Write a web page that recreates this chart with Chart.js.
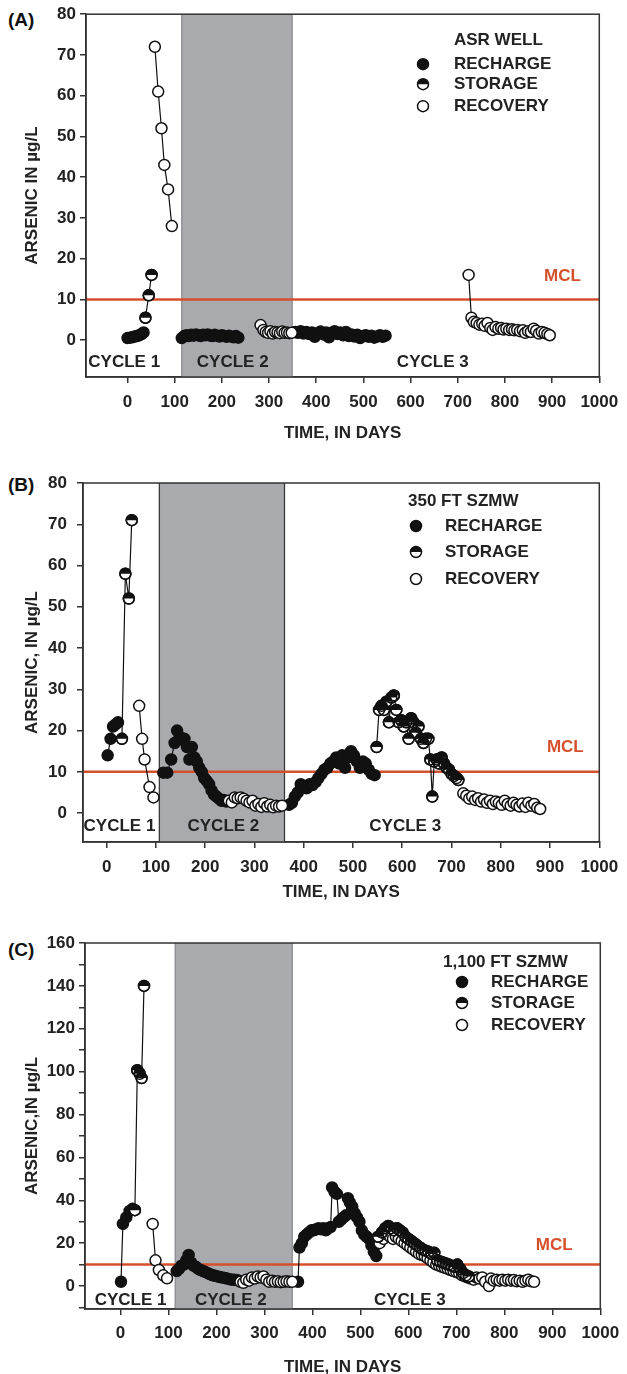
<!DOCTYPE html>
<html><head><meta charset="utf-8">
<script src="https://cdn.jsdelivr.net/npm/chart.js@4.4.0/dist/chart.umd.min.js"></script>
<style>
html,body{margin:0;padding:0;background:#fff;overflow:hidden;width:627px;height:1374px;position:relative;}
canvas{position:absolute;left:0;}
.plabel{position:absolute;left:8px;font:bold 19px "Liberation Sans",Arial,sans-serif;color:#111;line-height:22px;}
</style></head><body>
<div class="plabel" style="top:9px">(A)</div>
<div class="plabel" style="top:474px">(B)</div>
<div class="plabel" style="top:939px">(C)</div>
<canvas id="cA" width="627" height="448" style="top:0px"></canvas>
<canvas id="cB" width="627" height="457" style="top:448px"></canvas>
<canvas id="cC" width="627" height="480" style="top:905px"></canvas>
<script>
// ---------------- DATA ----------------
const MCL = 10;
const X_TICKS = [0,100,200,300,400,500,600,700,800,900,1000];
const AB_Y_TICKS = [0,10,20,30,40,50,60,70,80];
const C_Y_TICKS = [-10,0,10,20,30,40,50,60,70,80,90,100,110,120,130,140,150,160];
const C_Y_LABELS = [0,20,40,60,80,100,120,140,160];

// Panel A: ASR WELL
const aRechargeDay = [0,5,10,15,20,25,30,34, null,
  115,120,125,130,135,140,145,150,155,160,165,170,175,180,185,190,195,200,205,210,215,220,225,230,235, null,
  355,361,367,373,379,385,391,397,403,409,415,421,427,433,439,445,451,457,463,469,475,481,487,493,499,505,511,517,523,529,535,541,547];
const aRechargeAs = [0.5,0.6,0.7,0.9,1.0,1.2,1.5,1.9, null,
  0.5,1.0,1.2,1.0,1.3,1.1,1.4,1.2,1.0,1.3,1.2,1.4,1.1,1.0,1.3,1.1,0.9,1.2,1.0,0.8,1.1,0.9,0.7,1.0,0.6, null,
  2.0,1.8,2.2,1.6,2.0,1.5,1.9,0.8,1.7,2.1,1.4,1.9,0.7,1.8,2.2,1.5,1.9,1.2,2.0,1.0,1.4,0.9,1.3,0.5,1.0,1.2,0.8,1.1,0.6,0.9,1.2,0.8,1.1];
const aStorageDay = [38,45,51];
const aStorageAs = [5.5,11,16];
const aRecoveryDay = [58,65,72,78,86,94, null,
  282,288,293,298,303,308,313,318,323,328,333,338,343,348, null,
  723,729,734,740,746,752,757,763,769,774,780,786,792,797,803,809,815,820,826,832,838,843,849,855,861,866,872,878,884,890,895];
const aRecoveryAs = [72,61,52,43,37,28, null,
  3.7,2.5,2.0,1.8,2.2,1.6,2.0,1.9,1.7,2.1,1.8,1.9,1.7,1.8, null,
  16,5.5,4.5,4.2,3.8,4.0,3.5,4.2,3.0,2.5,3.2,2.8,3.0,2.6,2.8,2.5,2.7,2.4,2.5,2.2,2.4,1.8,2.2,2.0,2.8,2.3,1.6,2.0,1.8,1.5,1.2];

// Panel B: 350 FT SZMW
const bRechargeDay = [2,8,13,18,23, null,
  115,123,131,138,143,148,153,158,163,168,173,178,183,188,193,198,203,208,213,218,223,228,233,238,243, null,
  370,376,382,388,394,400,406,412,418,424,430,436,442,448,454,460,466,472,478,484,490,496,502,508,514,520,526,532,538,544];
const bRechargeAs = [14,18,21,21.5,22, null,
  9.8,9.8,13,17,20,18.5,17.8,18,16,13,16,13.5,12.5,11,10,8.5,7.8,7,5.5,4.5,4,3.5,3,3.2,2.8, null,
  2.0,2.5,4,5,7,6.5,6,7,6.8,7.5,8.5,9.5,10.5,11,12,12.5,13.5,12,14,11,13.5,15,14,12.5,11,12.5,12,10.5,9.5,9.2];
const bStorageDay = [31,38,45,51, null,
  548,553,558,563,568,573,578,583,588,593,598,603,608,613,618,623,628,633,638,643,648,653,657,661,665,670,675,680,685,690,695,700,705,710,714];
const bStorageAs = [18,58,52,71, null,
  16,25,26,25,27,22,28,28.5,25,22,22.5,21,22,18,23,22,19.5,21,18,17,18,18,13,4,12.5,13,12,13.5,12,11,10.5,9.5,9,8.5,8];
const bRecoveryDay = [66,72,77,87,95, null,
  248,254,260,266,272,278,284,290,296,302,308,314,320,326,332,338,344,350,356, null,
  724,730,736,742,748,754,760,766,772,778,784,790,796,802,808,814,820,826,832,838,844,850,856,862,868,874,880];
const bRecoveryAs = [26,18,13,6.3,3.8, null,
  3.0,2.6,3.8,3.6,3.8,3.5,3.0,2.6,3.0,1.8,2.2,1.5,2.4,1.6,2.0,1.4,1.8,1.6,1.8, null,
  4.8,4.2,3.5,4.0,3.2,3.6,2.8,3.3,2.5,3.0,2.2,2.8,2.5,2.0,3.0,2.2,1.8,2.5,2.0,1.6,2.3,1.5,2.5,1.8,2.2,1.3,1.0];

// Panel C: 1,100 FT SZMW
const cRechargeDay = [1,5,12,19,25, null,
  117,122,127,132,137,142,147,152,157,162,167,172,177,182,187,192,197,202,207,212,217,222,227,232,237,242,247, null,
  370,373,378,383,388,393,398,403,408,413,418,423,428,433,438,441,446,451,455,460,465,470,474,478,483,488,493,498,503,508,513,518,523,528,533];
const cRechargeAs = [2,29,32,35,36, null,
  7,8,9.5,10,12,14.5,11,9.5,9,8,7.5,7,6.5,6,5.5,5,4.8,4.5,4.2,4,3.8,3.5,3.2,3,3,2.8,2.5, null,
  2,18,20,23,24,25,26,26,26.5,27,26.5,27,26,27,27.5,46,44,43,30,31,32,33,41,39,37,34,32,30,26,24,23,22,19,16,14];
const cStorageDay = [30,35,40,44,49, null,
  537,545,552,558,564,570,576,582,588,594,600,606,612,618,624,630,636,642,648,654,660,666,672,678,684,690,696,702,708,714,720,726];
const cStorageAs = [35.4,100.7,99,97,140, null,
  23,25,27,28,27,26,27,26,25,23,22,21,20,19,18,17,16.5,16,15,15.5,12,11.5,11,10.5,10,9.5,9,10,8,6,5,4.5];
const cRecoveryDay = [67,73,80,89,97, null,
  250,256,262,268,274,280,286,292,298,304,310,316,322,328,334,340,346,352,358, null,
  540,548,556,562,568,574,580,586,592,598,604,610,616,622,628,634,640,646,652,658,664,670,676,682,688,694,700,706,712,718,724,730,736,742,748,754,760,768,772,778,784,790,796,802,808,814,820,826,832,838,844,850,856,862];
const cRecoveryAs = [29,12,7.5,5,3.6, null,
  2.0,1.5,3.0,2.5,4.0,3.5,4.5,4.0,4.5,3.0,2.0,2.5,2.0,2.2,1.8,2.0,2.2,2.0,2.0, null,
  20,22,24,23,22,23,22,21,20,19,18,17,16,15,14.5,14,13,12,11,10,9.5,9,8.5,8,7.5,7,6.5,6,5,4.5,4,3.5,3,4,3.5,4,2,0,3.5,2.5,3,2.5,3,2.5,3,2.5,2.8,2.2,2.5,2.0,2.5,3.0,2.2,2.0];

// Shaded storage period (days) per panel
const aShade = [115, 349];
const bShade = [107, 361];
const cShade = [114, 358];

// ---------------- STYLE / HELPERS ----------------
const FONT = '"Liberation Sans", Arial, Helvetica, sans-serif';
const RED = '#d4502c';
const INK = '#111';
const R = 5.5;

function pts(days, vals){
  return days.map((d,i) => d === null ? {x:null, y:null} : {x:d, y:vals[i]});
}
function series(days, vals, kind){
  const base = {data: pts(days, vals), borderColor:INK, borderWidth:1.2, spanGaps:false,
    pointRadius:R, pointHoverRadius:R, pointBorderWidth:1.5, pointBorderColor:INK, tension:0, fill:false, pointStyle:'circle'};
  if (kind === 'R') return Object.assign(base, {label:'RECHARGE', pointBackgroundColor:INK, order:3});
  if (kind === 'S') return Object.assign(base, {label:'STORAGE', pointBackgroundColor:'#fff', order:1, halfFill:true});
  return Object.assign(base, {label:'RECOVERY', pointBackgroundColor:'#fff', order:2});
}
function topHalf(ctx, x, y){
  ctx.beginPath(); ctx.arc(x, y, R, Math.PI, 2*Math.PI); ctx.closePath();
  ctx.fillStyle = INK; ctx.fill();
}

const deco = {
  id: 'deco',
  beforeDatasetsDraw(chart, args, o){
    const {ctx, chartArea:a, scales:{x, y}} = chart;
    ctx.save();
    const x1 = x.getPixelForValue(o.shade[0]), x2 = x.getPixelForValue(o.shade[1]);
    ctx.fillStyle = '#a9aaad';
    ctx.fillRect(x1, a.top, x2 - x1, a.bottom - a.top);
    ctx.strokeStyle = o.shadeEdge; ctx.lineWidth = 1.3;
    ctx.beginPath(); ctx.moveTo(x1, a.top); ctx.lineTo(x1, a.bottom); ctx.moveTo(x2, a.top); ctx.lineTo(x2, a.bottom); ctx.stroke();
    const ym = y.getPixelForValue(MCL);
    ctx.strokeStyle = RED; ctx.lineWidth = 2.5;
    ctx.beginPath(); ctx.moveTo(a.left, ym); ctx.lineTo(a.right, ym); ctx.stroke();
    ctx.fillStyle = RED; ctx.font = 'bold 17px ' + FONT; ctx.textAlign = 'center'; ctx.textBaseline = 'middle';
    ctx.fillText('MCL', x.getPixelForValue(o.mclAt[0]), y.getPixelForValue(o.mclAt[1]));
    ctx.fillStyle = '#222';
    o.cycles.forEach((c, i) => ctx.fillText('CYCLE ' + (i+1), x.getPixelForValue(c), y.getPixelForValue(o.cycleY)));
    ctx.restore();
  },
  afterDatasetsDraw(chart){
    const {ctx} = chart;
    ctx.save();
    chart.data.datasets.forEach((ds, i) => {
      if (!ds.halfFill) return;
      chart.getDatasetMeta(i).data.forEach(pt => {
        if (pt.skip || !isFinite(pt.x) || !isFinite(pt.y)) return;
        topHalf(ctx, pt.x, pt.y);
        ctx.beginPath(); ctx.arc(pt.x, pt.y, R, 0, 2*Math.PI); ctx.lineWidth = 1.5; ctx.strokeStyle = INK; ctx.stroke();
      });
    });
    ctx.restore();
  },
  afterDraw(chart, args, o){
    const {ctx, chartArea:a} = chart;
    ctx.save();
    ctx.strokeStyle = '#333'; ctx.lineWidth = 1.5;
    ctx.strokeRect(a.left, a.top, a.right - a.left, a.bottom - a.top);
    const L = o.legend;
    ctx.fillStyle = '#222'; ctx.font = 'bold 17px ' + FONT; ctx.textAlign = 'left'; ctx.textBaseline = 'middle';
    ctx.fillText(L.title, a.left + L.titleDx, a.top + L.titleDy);
    const labels = ['RECHARGE', 'STORAGE', 'RECOVERY'];
    L.rows.forEach((dy, i) => {
      const cx = a.left + L.markerDx, cy = a.top + dy;
      ctx.beginPath(); ctx.arc(cx, cy, R, 0, 2*Math.PI);
      ctx.fillStyle = i === 0 ? INK : '#fff'; ctx.fill();
      if (i === 1) topHalf(ctx, cx, cy);
      ctx.beginPath(); ctx.arc(cx, cy, R, 0, 2*Math.PI);
      ctx.lineWidth = 1.5; ctx.strokeStyle = INK; ctx.stroke();
      ctx.fillStyle = '#222';
      ctx.fillText(labels[i], a.left + L.textDx, cy);
    });
    ctx.restore();
  }
};

function makeChart(id, P){
  const tickFont = {family: FONT, size: 17, weight: 'bold'};
  new Chart(document.getElementById(id), {
    type: 'line',
    data: { datasets: [
      series(P.rd, P.rv, 'R'),
      series(P.sd, P.sv, 'S'),
      series(P.vd, P.vv, 'V')
    ]},
    options: {
      responsive: false, animation: false, events: [],
      layout: { padding: {top: P.padTop, right: P.padRight, left: 0, bottom: 0} },
      plugins: { legend: {display: false}, tooltip: {enabled: false}, deco: P.deco },
      scales: {
        x: {
          type: 'linear', min: P.xMin, max: 1000,
          ticks: {autoSkip: false, maxRotation: 0, color: '#222', font: tickFont, padding: P.xPad,
            callback: v => String(v)},
          afterBuildTicks: s => { s.ticks = X_TICKS.map(v => ({value: v})); },
          afterFit: s => { s.height = P.xAxisH; },
          grid: {drawOnChartArea: false, drawTicks: true, tickLength: 6, color: '#333', lineWidth: 1.5},
          border: {display: true, color: '#333', width: 1.5},
          title: {display: true, text: 'TIME, IN DAYS', color: '#222', font: tickFont, padding: {top: 0, bottom: P.xTitlePad}}
        },
        y: {
          type: 'linear', min: P.yMin, max: P.yMax,
          ticks: {autoSkip: false, color: '#222', font: tickFont, padding: P.yPad,
            callback: v => P.yLabels.includes(v) ? String(v) : ''},
          afterBuildTicks: s => { s.ticks = P.yTicks.map(v => ({value: v})); },
          afterFit: s => { s.width = P.plotLeft; },
          grid: {drawOnChartArea: false, drawTicks: true, tickLength: 6, color: '#333', lineWidth: 1.5},
          border: {display: true, color: '#333', width: 1.5},
          title: {display: true, text: P.yTitle, color: '#222', font: tickFont, padding: {top: 21.8, bottom: 0}}
        }
      }
    },
    plugins: [deco]
  });
}

makeChart('cA', {
  rd: aRechargeDay, rv: aRechargeAs, sd: aStorageDay, sv: aStorageAs, vd: aRecoveryDay, vv: aRecoveryAs,
  padTop: 13, padRight: 19, plotLeft: 86, xAxisH: 71, xPad: 8.8, xTitlePad: 4.8, yPad: 4,
  xMin: -88, yMin: -9.05, yMax: 80, yTicks: AB_Y_TICKS, yLabels: AB_Y_TICKS, yTitle: 'ARSENIC IN µg/L',
  deco: {shade: aShade, shadeEdge: '#8d8e91', mclAt: [922, 15.6], cycleY: -5.4, cycles: [-7, 223, 647],
    legend: {title: 'ASR WELL', titleDx: 368, titleDy: 26, markerDx: 337, textDx: 368, rows: [50, 70, 92]}}
});
makeChart('cB', {
  rd: bRechargeDay, rv: bRechargeAs, sd: bStorageDay, sv: bStorageAs, vd: bRecoveryDay, vv: bRecoveryAs,
  padTop: 35, padRight: 19, plotLeft: 83, xAxisH: 63, xPad: 8.8, xTitlePad: 2.8, yPad: 10,
  xMin: -48, yMin: -7, yMax: 80, yTicks: AB_Y_TICKS, yLabels: AB_Y_TICKS, yTitle: 'ARSENIC, IN µg/L',
  deco: {shade: bShade, shadeEdge: '#3a3a3a', mclAt: [931, 15.9], cycleY: -3.3, cycles: [26, 237, 606],
    legend: {title: '350 FT SZMW', titleDx: 325, titleDy: 18, markerDx: 333, textDx: 362, rows: [43, 69, 96]}}
});
makeChart('cC', {
  rd: cRechargeDay, rv: cRechargeAs, sd: cStorageDay, sv: cStorageAs, vd: cRecoveryDay, vv: cRecoveryAs,
  padTop: 38, padRight: 20, plotLeft: 85, xAxisH: 76, xPad: 7.8, xTitlePad: 7.8, yPad: 4,
  xMin: -74, yMin: -10.7, yMax: 160, yTicks: C_Y_TICKS, yLabels: C_Y_LABELS, yTitle: 'ARSENIC,IN µg/L',
  deco: {shade: cShade, shadeEdge: '#8d8e91', mclAt: [904, 19], cycleY: -6.5, cycles: [21, 230, 603],
    legend: {title: '1,100 FT SZMW', titleDx: 358, titleDy: 19, markerDx: 377, textDx: 406, rows: [39, 60, 82]}}
});
</script>
</body></html>
